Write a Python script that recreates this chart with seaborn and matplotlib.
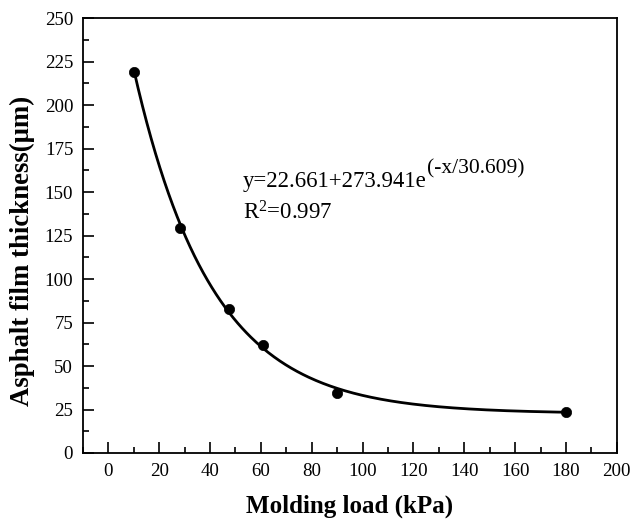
import numpy as np
import pandas as pd
import seaborn as sns
import matplotlib
matplotlib.use("Agg")
import matplotlib.pyplot as plt
from matplotlib.ticker import MultipleLocator

# Measured film thickness versus molding load
load_kpa = [10, 28, 47.5, 61, 90, 180]
thickness_um = [219, 129.5, 83, 62, 34.5, 23.5]

# Exponential decay fit y = y0 + A * exp(-x / t)
fit_y0 = 22.661
fit_a = 273.941
fit_t = 30.609
fit_r2 = 0.997

sns.set_theme(style="ticks")
plt.rcParams["font.family"] = ["Liberation Serif", "DejaVu Serif"]
plt.rcParams["mathtext.fontset"] = "custom"
plt.rcParams["mathtext.rm"] = "Liberation Serif"
plt.rcParams["mathtext.it"] = "Liberation Serif:italic"
plt.rcParams["text.color"] = "black"
plt.rcParams["axes.labelcolor"] = "black"
plt.rcParams["xtick.color"] = "black"
plt.rcParams["ytick.color"] = "black"

df = pd.DataFrame({"load": load_kpa, "thickness": thickness_um})
xs = np.linspace(min(load_kpa), max(load_kpa), 300)
fit_df = pd.DataFrame({"load": xs, "thickness": fit_y0 + fit_a * np.exp(-xs / fit_t)})

fig = plt.figure(figsize=(6.3, 5.24), dpi=100)
ax = fig.add_axes([0.1317, 0.1355, 0.8473, 0.8301])

sns.lineplot(data=fit_df, x="load", y="thickness", ax=ax, color="black", linewidth=2.0)
sns.scatterplot(data=df, x="load", y="thickness", ax=ax, color="black", s=55,
                edgecolor="black", linewidth=0.5, zorder=3)

ax.set_xlim(-10, 200)
ax.set_ylim(0, 250)
ax.xaxis.set_major_locator(MultipleLocator(20))
ax.xaxis.set_minor_locator(MultipleLocator(10))
ax.yaxis.set_major_locator(MultipleLocator(25))
ax.yaxis.set_minor_locator(MultipleLocator(12.5))
ax.tick_params(which="major", direction="in", length=8, width=1.2, labelsize=13.6,
               top=False, right=False, pad=7)
ax.tick_params(which="minor", direction="in", length=4, width=1.2, top=False, right=False)
for sp in ax.spines.values():
    sp.set_linewidth(1.3)
    sp.set_color("black")

ax.set_xlabel("Molding load (kPa)", fontsize=18, fontweight="bold", labelpad=11)
ax.set_ylabel("Asphalt film thickness(μm)", fontsize=19.3, fontweight="bold")
ax.yaxis.set_label_coords(-0.09, 0.464)

# Fit equation with its exponent drawn as a raised, slightly smaller text
eq_main = ax.text(0.299, 0.612, f"y={fit_y0}+{fit_a}e",
                  transform=ax.transAxes, fontsize=16.4, va="baseline", ha="left")
ax.annotate(f"(-x/{fit_t})", xy=(1, 0), xycoords=eq_main,
            xytext=(0.3, 13.5), textcoords="offset points",
            fontsize=15.5, va="baseline", ha="left")
ax.text(0.299, 0.537, r"R$^{2}$" + f"={fit_r2}",
        transform=ax.transAxes, fontsize=16.4, va="baseline", ha="left")

fig.savefig("out.png", dpi=100)
